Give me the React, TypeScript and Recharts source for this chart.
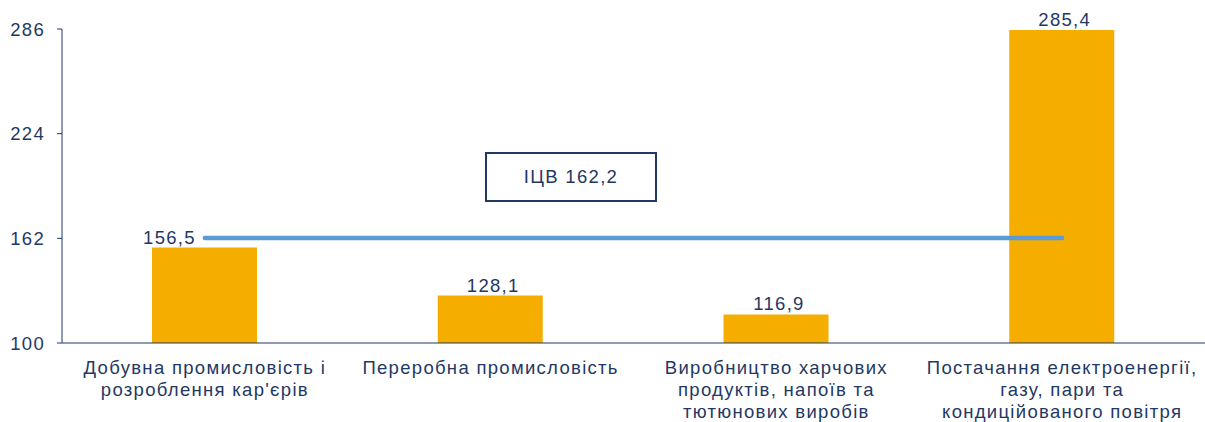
import React from "react";
import { ComposedChart, Bar, Line, XAxis, YAxis, LabelList } from "recharts";

const categories = [
  "Добувна промисловість і\nрозроблення кар'єрів",
  "Переробна промисловість",
  "Виробництво харчових\nпродуктів, напоїв та\nтютюнових виробів",
  "Постачання електроенергії,\nгазу, пари та\nкондиційованого повітря",
];
const values = [156.5, 128.1, 116.9, 285.4];
const icv = 162.2;
const yTicks = [100, 162, 224, 286];
const boundaryTicks = [0, 1, 2, 3, 4];

const NAVY = "#1f3864";
const FONT = "'Liberation Sans', Arial, sans-serif";
const SPACING = 1.3;

const data = categories.map((name, i) => ({
  name,
  value: values[i],
  icv,
  pos: i + 0.5,
}));

const fmt = (v: number) => v.toFixed(1).replace(".", ",");

function CategoryTick(props: any) {
  const { x, y, payload } = props;
  const lines = String(payload.value).split("\n");
  return (
    <text
      x={x}
      y={y}
      textAnchor="middle"
      fill={NAVY}
      fontSize={18.5}
      fontFamily={FONT}
      letterSpacing={SPACING}
    >
      {lines.map((l, i) => (
        <tspan key={i} x={x} dy={i === 0 ? 23 : 22}>
          {l}
        </tspan>
      ))}
    </text>
  );
}

function ValueLabel(props: any) {
  const { x, y, width, value, index } = props;
  // first label sits left so the index line doesn't run through it
  const shift = index === 0 ? -35 : 3;
  return (
    <text
      x={x + width / 2 + shift}
      y={y - 4}
      textAnchor="middle"
      fill={NAVY}
      fontSize={18.5}
      fontFamily={FONT}
      letterSpacing={SPACING}
    >
      {fmt(value)}
    </text>
  );
}

export default function App() {
  return (
    <div style={{ position: "relative", width: 1205, height: 422, background: "#fff" }}>
      <style>{`body{margin:0}`}</style>
      <ComposedChart
        width={1205}
        height={422}
        data={data}
        margin={{ top: 29, right: 0, left: 0, bottom: 0 }}
      >
        <XAxis
          xAxisId="b"
          type="number"
          dataKey="pos"
          domain={[0, 4]}
          ticks={boundaryTicks}
          height={1}
          axisLine={false}
          tick={false}
          tickLine={{ stroke: NAVY }}
          tickSize={6}
        />
        <XAxis
          dataKey="name"
          interval={0}
          height={78}
          axisLine={{ stroke: NAVY }}
          tickLine={false}
          tick={<CategoryTick />}
        />
        <YAxis
          domain={[100, 286]}
          ticks={yTicks}
          width={62}
          axisLine={{ stroke: NAVY }}
          tickLine={{ stroke: NAVY }}
          tickSize={5}
          tick={{ fill: NAVY, fontSize: 18.5, fontFamily: FONT, letterSpacing: SPACING }}
          tickMargin={12}
        />
        <Bar dataKey="value" fill="#f5ae00" barSize={105} isAnimationActive={false}>
          <LabelList dataKey="value" content={<ValueLabel />} />
        </Bar>
        <Line
          dataKey="icv"
          stroke="#5b9bd5"
          strokeWidth={4.5}
          strokeLinecap="round"
          dot={false}
          activeDot={false}
          isAnimationActive={false}
        />
      </ComposedChart>
      <div
        style={{
          position: "absolute",
          left: 485,
          top: 152,
          width: 168,
          height: 46,
          border: `2px solid ${NAVY}`,
          display: "flex",
          alignItems: "center",
          justifyContent: "center",
          color: NAVY,
          fontSize: 18.5,
          fontFamily: FONT,
          letterSpacing: SPACING,
          background: "#fff",
        }}
      >
        ІЦВ {fmt(icv)}
      </div>
    </div>
  );
}
